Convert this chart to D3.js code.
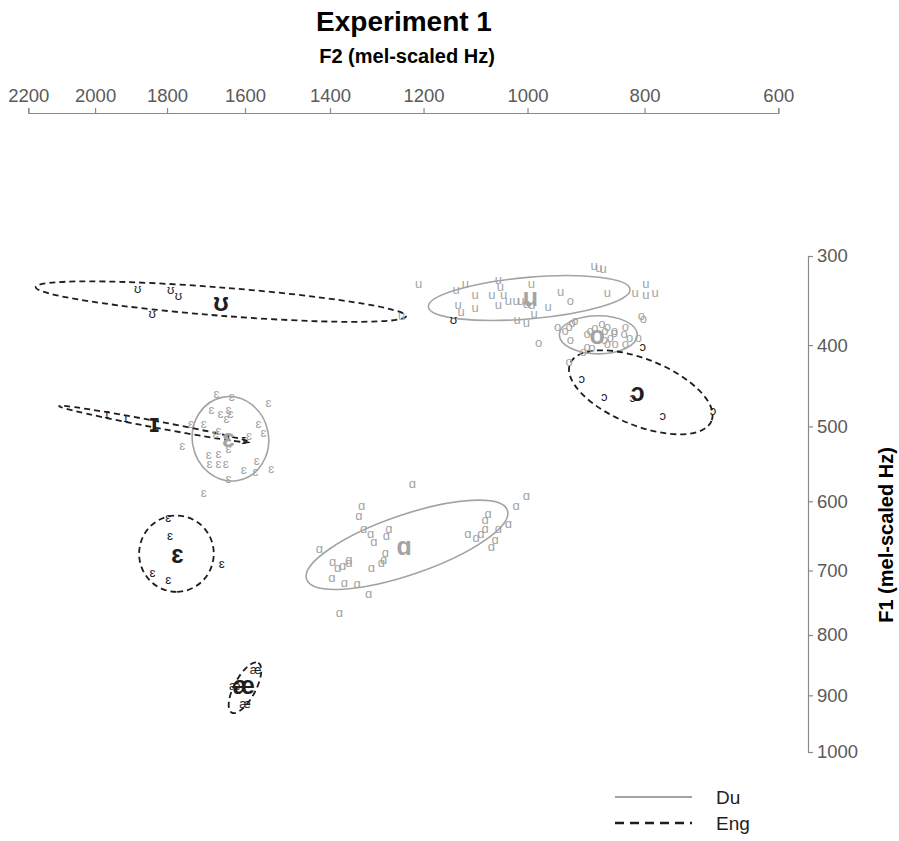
<!DOCTYPE html>
<html>
<head>
<meta charset="utf-8">
<script src="https://cdn.jsdelivr.net/npm/d3@7"></script>
<style>
body { margin: 0; background: #fff; }
text { font-family: "Liberation Sans", Arial, sans-serif; }
</style>
</head>
<body>
<div id="grafica"></div>
<script>
// ticks (Hz)
const f2Ticks = [2200, 2000, 1800, 1600, 1400, 1200, 1000, 800, 600]
const f1Ticks = [300, 400, 500, 600, 700, 800, 900, 1000]

// tokens [F2, F1] in Hz
// Dutch (grey)
const duU = [[1210,330],[1245,366],[1135,337],[1117,330],[1098,342],[1066,342],[1054,325],[1050,333],[1044,342],
  [993,330],[941,339],[861,340],[883,310],[875,312],[868,313],[815,340],[798,330],[798,342],[783,340],
  [1131,353],[1125,361],[1098,357],[1054,353],[1035,349],[1021,349],[1012,349],[1002,352],[992,353],
  [988,364],[963,355],[1019,370],[1002,374]]
const duO = [[946,378],[926,378],[921,374],[916,372],[924,349],[882,380],[870,375],[861,378],[865,383],
  [849,385],[856,391],[866,394],[831,378],[833,387],[824,391],[895,387],[890,383],[924,394],[861,398],
  [848,398],[831,398],[895,402],[887,403],[902,408],[810,391],[805,366],[802,369],[926,420],[980,397],
  [933,383],[849,383]]
const duE = [[1671,459],[1633,462],[1543,470],[1684,478],[1661,483],[1641,478],[1636,484],[1646,490],
  [1704,496],[1737,496],[1666,505],[1674,509],[1567,496],[1555,508],[1590,512],[1760,525],[1691,536],
  [1666,535],[1689,548],[1666,549],[1648,549],[1641,529],[1571,545],[1603,556],[1574,559],[1536,555],
  [1641,569],[1704,588]]
const duA = [[1223,575],[1330,606],[1336,620],[1326,639],[1311,645],[1304,657],[1272,639],[1277,649],
  [1424,668],[1279,674],[1283,683],[1288,688],[1394,686],[1383,696],[1372,693],[1358,683],[1358,688],
  [1309,696],[1396,711],[1368,718],[1340,720],[1315,735],[1379,765],[1112,646],[1096,652],[1087,645],
  [1079,639],[1079,625],[1073,617],[1054,639],[1035,632],[1060,654],[1067,664],[1021,606],[1002,592]]
// English (black)
const engU = [[1880,335],[1790,337],[1770,343],[1840,364],[1140,370]]
const engI = [[1966,484],[1913,489],[1641,513],[1603,517]]
const engE = [[1797,623],[1792,649],[1658,690],[1839,703],[1797,714]]
const engO = [[904,440],[866,462],[819,464],[771,486],[694,480],[803,402]]
const engAE = [[1574,857],[1625,884],[1600,914]]

// vowel means [F2, F1]
const vowelSymbols = ['u', 'o', 'ɛ', 'ɑ', 'ʊ', 'ɪ', 'ɛ', 'ɔ', 'æ']
const vowelLang = ['Du', 'Du', 'Du', 'Du', 'Eng', 'Eng', 'Eng', 'Eng', 'Eng']
const vowelMeans = [[995,345],[878,388],[1641,515],[1240,664],[1660,350],[1834,496],[1772,675],[811,456],[1603,882]]
// ellipses: centre [F2, F1] Hz, semi-axes in mel, tilt in degrees
const ellCentres = [[997,346],[876,388],[1636,516],[1234,662],[1660,350],[1834,497],[1775,675],[806,457],[1600,887]]
const ellAxisA = [122, 47, 51, 128, 224, 117, 46, 92, 34]
const ellAxisB = [25, 23, 46, 36, 17, 4, 45, 40, 13]
const ellTilt = [-5, 0, 80, -19, 4.5, 10.7, 90, 22, -62]

const tokenSets = [
  { lang: 'Du', sym: 'u', pts: duU },
  { lang: 'Du', sym: 'o', pts: duO },
  { lang: 'Du', sym: 'ɛ', pts: duE },
  { lang: 'Du', sym: 'ɑ', pts: duA },
  { lang: 'Eng', sym: 'ʊ', pts: engU },
  { lang: 'Eng', sym: 'ɪ', pts: engI },
  { lang: 'Eng', sym: 'ɛ', pts: engE },
  { lang: 'Eng', sym: 'ɔ', pts: engO },
  { lang: 'Eng', sym: 'æ', pts: engAE },
]

const mel = f => 2595 * Math.log10(1 + f / 700)
const hz = m => 700 * (Math.pow(10, m / 2595) - 1)

const svgWidth = 899
const svgHeight = 841

const grey = '#a3a3a3'
const dark = '#1e1e1e'

const x = d3.scaleLinear()
    .domain([mel(2200), mel(600)])
    .range([28.3, 778.3])

const y = d3.scaleLinear()
    .domain([mel(300), mel(1000)])
    .range([256, 752])

const pxPerMel = Math.abs(x(1) - x(0))

const svg = d3.select('#grafica')
    .append('svg')
    .attr('width', svgWidth)
    .attr('height', svgHeight)

// titles
svg.append('text')
    .attr('x', 404).attr('y', 31)
    .attr('text-anchor', 'middle')
    .style('font-size', '28px').style('font-weight', 'bold')
    .text('Experiment 1')

svg.append('text')
    .attr('x', 407).attr('y', 63)
    .attr('text-anchor', 'middle')
    .style('font-size', '20px').style('font-weight', 'bold')
    .text('F2 (mel-scaled Hz)')

svg.append('text')
    .attr('transform', 'translate(893,535) rotate(-90)')
    .attr('text-anchor', 'middle')
    .style('font-size', '20px').style('font-weight', 'bold')
    .text('F1 (mel-scaled Hz)')

// axes
const axisX = d3.axisTop(x)
    .tickValues(f2Ticks.map(mel))
    .tickFormat(m => Math.round(hz(m)))
    .tickSize(5).tickSizeOuter(5).tickPadding(6)

const axisY = d3.axisRight(y)
    .tickValues(f1Ticks.map(mel))
    .tickFormat(m => Math.round(hz(m)))
    .tickSize(5).tickSizeOuter(5).tickPadding(4)

const gx = svg.append('g')
    .attr('transform', 'translate(0,113)')
    .call(axisX)
const gy = svg.append('g')
    .attr('transform', 'translate(808,0)')
    .call(axisY)

for (const g of [gx, gy]) {
  g.selectAll('path, line').attr('stroke', '#8a8a8a').attr('stroke-width', 1.2)
  g.selectAll('text').attr('fill', '#5a5a5a').style('font-size', '18.5px')
    .style('font-family', '"Liberation Sans", Arial, sans-serif')
}

// ellipses
const ellData = vowelSymbols.map((s, i) => ({
  lang: vowelLang[i], c: ellCentres[i], a: ellAxisA[i], b: ellAxisB[i], t: ellTilt[i]
}))

svg.selectAll('.ell')
    .data(ellData)
    .enter()
    .append('ellipse')
    .attr('class', 'ell')
    .attr('cx', d => x(mel(d.c[0])))
    .attr('cy', d => y(mel(d.c[1])))
    .attr('rx', d => d.a * pxPerMel)
    .attr('ry', d => d.b * pxPerMel)
    .attr('transform', d => `rotate(${d.t},${x(mel(d.c[0]))},${y(mel(d.c[1]))})`)
    .style('fill', 'none')
    .style('stroke', d => d.lang === 'Du' ? grey : dark)
    .style('stroke-width', d => d.lang === 'Du' ? 1.6 : 1.8)
    .style('stroke-dasharray', d => d.lang === 'Du' ? null : '6,4')

// tokens
const tokens = tokenSets.flatMap(s => s.pts.map(p => ({ lang: s.lang, sym: s.sym, f2: p[0], f1: p[1] })))

svg.selectAll('.tok')
    .data(tokens)
    .enter()
    .append('text')
    .attr('class', 'tok')
    .attr('x', d => x(mel(d.f2)))
    .attr('y', d => y(mel(d.f1)))
    .attr('text-anchor', 'middle')
    .attr('dominant-baseline', 'central')
    .style('font-size', '13px')
    .style('fill', d => d.lang === 'Du' ? grey : dark)
    .text(d => d.sym)

// means
svg.selectAll('.mean')
    .data(vowelMeans.map((m, i) => ({ sym: vowelSymbols[i], lang: vowelLang[i], f2: m[0], f1: m[1] })))
    .enter()
    .append('text')
    .attr('class', 'mean')
    .attr('x', d => x(mel(d.f2)))
    .attr('y', d => y(mel(d.f1)))
    .attr('text-anchor', 'middle')
    .attr('dominant-baseline', 'central')
    .style('font-size', '25px')
    .style('font-weight', 'bold')
    .style('fill', d => d.lang === 'Du' ? grey : dark)
    .text(d => d.sym)

// legend
const legend = svg.append('g').attr('transform', 'translate(615,797)')
const legendItems = ['Du', 'Eng']
legend.selectAll('line')
    .data(legendItems)
    .enter()
    .append('line')
    .attr('x1', 0).attr('x2', 77)
    .attr('y1', (d, i) => i * 26).attr('y2', (d, i) => i * 26)
    .style('stroke', d => d === 'Du' ? grey : dark)
    .style('stroke-width', d => d === 'Du' ? 2 : 2.5)
    .style('stroke-dasharray', d => d === 'Du' ? null : '9,6')
legend.selectAll('text')
    .data(legendItems)
    .enter()
    .append('text')
    .attr('x', 101)
    .attr('y', (d, i) => i * 26)
    .attr('dominant-baseline', 'central')
    .style('font-size', '19px')
    .style('fill', dark)
    .text(d => d)
</script>
</body>
</html>
